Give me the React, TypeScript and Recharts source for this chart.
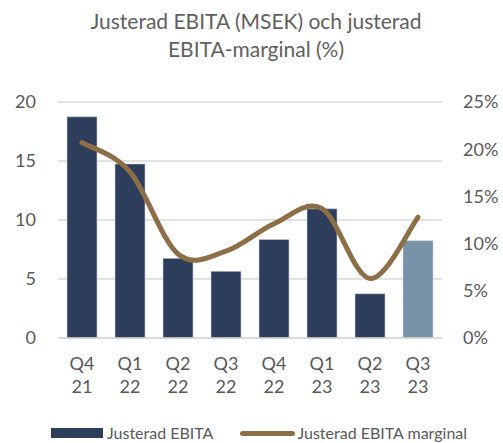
import { ComposedChart, Bar, Line, XAxis, YAxis, CartesianGrid, Legend, Cell } from "recharts";

const quarters = ["Q4 21", "Q1 22", "Q2 22", "Q3 22", "Q4 22", "Q1 23", "Q2 23", "Q3 23"];
const ebita = [18.75, 14.75, 6.75, 5.65, 8.35, 10.95, 3.75, 8.25];
const ebitaMargin = [20.7, 17.6, 8.9, 9.2, 12.1, 13.7, 6.3, 12.8];
const leftTicks = [0, 5, 10, 15, 20];
const rightTicks = [0, 5, 10, 15, 20, 25];

const FONT = "Lato, 'Open Sans', sans-serif";
const TEXT = "#595959";
const NAVY = "#2D3E5C";
const LAST = "#7892A8";
const BROWN = "#8C6E47";

const data = quarters.map((q, i) => ({ q, ebita: ebita[i], margin: ebitaMargin[i] }));

// Excel-style smoothed line (Catmull-Rom as cubic beziers)
function excelSmooth(context: any) {
  let pts: [number, number][] = [];
  return {
    areaStart() {},
    areaEnd() {},
    lineStart() {
      pts = [];
    },
    point(x: number, y: number) {
      pts.push([+x, +y]);
    },
    lineEnd() {
      if (!pts.length) return;
      context.moveTo(pts[0][0], pts[0][1]);
      for (let i = 0; i < pts.length - 1; i++) {
        const p0 = pts[Math.max(i - 1, 0)];
        const p1 = pts[i];
        const p2 = pts[i + 1];
        const p3 = pts[Math.min(i + 2, pts.length - 1)];
        context.bezierCurveTo(
          p1[0] + (p2[0] - p0[0]) / 6,
          p1[1] + (p2[1] - p0[1]) / 6,
          p2[0] - (p3[0] - p1[0]) / 6,
          p2[1] - (p3[1] - p1[1]) / 6,
          p2[0],
          p2[1]
        );
      }
    },
  };
}

function QuarterTick(props: any) {
  const { x, y, payload } = props;
  const [q, yr] = String(payload.value).split(" ");
  return (
    <text x={x} y={y} textAnchor="middle" fill={TEXT} fontSize={18} fontFamily={FONT}>
      <tspan x={x} dy={24}>{q}</tspan>
      <tspan x={x} dy={23}>{yr}</tspan>
    </text>
  );
}

function ChartLegend() {
  return (
    <div
      style={{
        display: "flex",
        alignItems: "center",
        height: 18,
        lineHeight: "18px",
        paddingLeft: 51,
        fontFamily: FONT,
        fontSize: 16,
        color: TEXT,
        whiteSpace: "nowrap",
      }}
    >
      <span style={{ width: 52, height: 10, background: NAVY, display: "inline-block", marginRight: 4 }} />
      <span>Justerad EBITA</span>
      <span
        style={{
          width: 55,
          height: 5,
          borderRadius: 3,
          background: BROWN,
          display: "inline-block",
          marginLeft: 27,
          marginRight: 2,
        }}
      />
      <span>Justerad EBITA marginal</span>
    </div>
  );
}

export default function App() {
  return (
    <div style={{ position: "fixed", left: 0, top: 0, width: 503, height: 443, background: "#fff", overflow: "hidden" }}>
      <div
        style={{
          position: "absolute",
          left: 0,
          top: 7,
          width: 512,
          textAlign: "center",
          fontFamily: FONT,
          fontSize: 21,
          lineHeight: "28px",
          color: "#606060",
        }}
      >
        Justerad EBITA (MSEK) och justerad
        <br />
        EBITA-marginal (%)
      </div>
      <ComposedChart
        width={503}
        height={443}
        data={data}
        margin={{ top: 102, right: 0, left: 0, bottom: 0 }}
        barCategoryGap="18.75%"
      >
        <CartesianGrid yAxisId="left" vertical={false} stroke="#d9d9d9" strokeWidth={1.5} />
        <XAxis
          dataKey="q"
          axisLine={{ stroke: "#d9d9d9", strokeWidth: 1.5 }}
          tickLine={false}
          height={70}
          interval={0}
          tick={<QuarterTick />}
        />
        <YAxis
          yAxisId="left"
          domain={[0, 20]}
          ticks={leftTicks}
          axisLine={false}
          tickLine={false}
          width={58}
          tickMargin={16}
          tick={{ fill: TEXT, fontSize: 18, fontFamily: FONT }}
        />
        <YAxis
          yAxisId="right"
          orientation="right"
          domain={[0, 25]}
          ticks={rightTicks}
          axisLine={false}
          tickLine={false}
          width={61}
          tickMargin={15}
          tickFormatter={(v) => `${v}%`}
          tick={{ fill: TEXT, fontSize: 18, fontFamily: FONT, textAnchor: "start" }}
        />
        <Bar yAxisId="left" dataKey="ebita" isAnimationActive={false} stroke="#c8cfda" strokeWidth={0.6}>
          {data.map((d, i) => (
            <Cell key={d.q} fill={i === data.length - 1 ? LAST : NAVY} />
          ))}
        </Bar>
        <Line
          yAxisId="right"
          dataKey="margin"
          type={excelSmooth as any}
          stroke={BROWN}
          strokeWidth={5}
          strokeLinecap="round"
          dot={false}
          activeDot={false}
          isAnimationActive={false}
        />
        <Legend height={35} content={<ChartLegend />} wrapperStyle={{ bottom: -16 }} />
      </ComposedChart>
    </div>
  );
}
